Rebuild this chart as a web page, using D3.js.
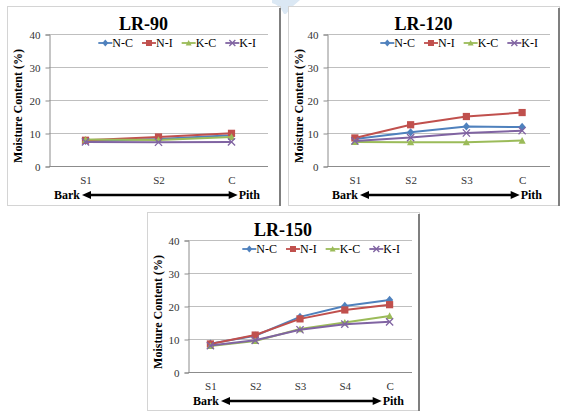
<!DOCTYPE html>
<html>
<head>
<meta charset="utf-8">
<script src="https://cdn.jsdelivr.net/npm/d3@7"></script>
<style>
  html, body { margin: 0; padding: 0; background: #fff; }
  svg { display: block; }
  svg text { font-family: 'Liberation Serif', 'Times New Roman', serif; }
</style>
</head>
<body>
<svg id="chart" width="575" height="415"></svg>
<script>
// ---- data ----
const seriesNames = ["N-C", "N-I", "K-C", "K-I"];
const seriesColors = ["#4F81BD", "#C0504D", "#9BBB59", "#8064A2"];
const seriesMarkers = ["diamond", "square", "triangle", "cross"];
const yTicks = [0, 10, 20, 30, 40];

const cats90 = ["S1", "S2", "C"];
const lr90NC = [7.6, 8.2, 9.3];
const lr90NI = [7.8, 8.8, 9.9];
const lr90KC = [8.0, 7.9, 8.8];
const lr90KI = [7.3, 7.2, 7.3];

const cats120 = ["S1", "S2", "S3", "C"];
const lr120NC = [8.2, 10.2, 12.0, 11.8];
const lr120NI = [8.5, 12.5, 15.0, 16.2];
const lr120KC = [7.3, 7.2, 7.2, 7.7];
const lr120KI = [7.6, 8.6, 10.0, 10.7];

const cats150 = ["S1", "S2", "S3", "S4", "C"];
const lr150NC = [8.6, 11.0, 16.7, 20.0, 21.8];
const lr150NI = [8.5, 11.2, 16.1, 18.8, 20.4];
const lr150KC = [7.9, 9.4, 13.0, 15.0, 17.0];
const lr150KI = [8.0, 9.6, 12.8, 14.5, 15.2];

const panels = [
  { title: "LR-90", cats: cats90, values: [lr90NC, lr90NI, lr90KC, lr90KI],
    box: [7, 6, 280, 205], plot: [49, 34, 268, 166] },
  { title: "LR-120", cats: cats120, values: [lr120NC, lr120NI, lr120KC, lr120KI],
    box: [288, 6, 559, 205], plot: [327, 34, 550, 166] },
  { title: "LR-150", cats: cats150, values: [lr150NC, lr150NI, lr150KC, lr150KI],
    box: [147, 212, 419, 410], plot: [188, 240, 412, 372] }
];

const SERIF = "'Liberation Serif', 'Times New Roman', serif";
const svg = d3.select("#chart");

// light blue page artifact at top
svg.append("path")
  .attr("d", "M272,0 L300,0 Q292,6 286,14 L284,14 Q280,5 272,3 Z")
  .attr("fill", "#dbe8f4");

function marker(g, type, x, y, color, s) {
  s = s || 3.6;
  if (type === "diamond") {
    g.append("path").attr("d", `M${x},${y - s - 0.6}L${x + s},${y}L${x},${y + s + 0.6}L${x - s},${y}Z`).attr("fill", color);
  } else if (type === "square") {
    g.append("rect").attr("x", x - s).attr("y", y - s).attr("width", 2 * s).attr("height", 2 * s).attr("fill", color);
  } else if (type === "triangle") {
    g.append("path").attr("d", `M${x},${y - s}L${x + s},${y + s - 0.5}L${x - s},${y + s - 0.5}Z`).attr("fill", color);
  } else {
    g.append("path").attr("d", `M${x - s},${y - s}L${x + s},${y + s}M${x - s},${y + s}L${x + s},${y - s}`)
      .attr("stroke", color).attr("stroke-width", 1.3).attr("fill", "none");
  }
}

panels.forEach(p => {
  const g = svg.append("g");
  const [bx0, by0, bx1, by1] = p.box;
  const [px0, py0, px1, py1] = p.plot;

  // panel frame
  g.append("rect").attr("x", bx0 + 0.5).attr("y", by0 + 0.5)
    .attr("width", bx1 - bx0).attr("height", by1 - by0)
    .attr("fill", "#fff").attr("stroke", "#d4d4d4").attr("stroke-width", 1);
  g.append("line").attr("x1", bx1).attr("x2", bx1).attr("y1", by0 + 2).attr("y2", by1 + 1)
    .attr("stroke", "#7f7f7f").attr("stroke-width", 2);

  const x = d3.scalePoint().domain(p.cats).range([px0, px1]).padding(0.5);
  const y = d3.scaleLinear().domain([0, 40]).range([py1, py0]);

  // gridlines
  g.append("g").selectAll("line").data(yTicks.filter(t => t > 0)).join("line")
    .attr("x1", px0).attr("x2", px1)
    .attr("y1", d => Math.round(y(d)) + 0.5).attr("y2", d => Math.round(y(d)) + 0.5)
    .attr("stroke", "#bfbfbf").attr("stroke-width", 1);

  // y axis
  const yAxis = g.append("g").attr("transform", `translate(${px0 + 0.5},0.5)`)
    .call(d3.axisLeft(y).tickValues(yTicks).tickSize(4).tickPadding(5).tickFormat(d3.format("d")));
  yAxis.attr("font-family", null);
  yAxis.select(".domain").attr("stroke", "#8c8c8c");
  yAxis.selectAll(".tick line").attr("stroke", "#8c8c8c");
  yAxis.selectAll("text").style("font-family", SERIF).attr("font-size", 11).attr("fill", "#333");

  // x axis
  const xAxis = g.append("g").attr("transform", `translate(0,${Math.round(py1) + 0.5})`)
    .call(d3.axisBottom(x).tickSize(0).tickPadding(10));
  xAxis.attr("font-family", null);
  xAxis.select(".domain").attr("stroke", "#8c8c8c").attr("d", `M${px0},0H${px1}`);
  xAxis.selectAll("text").style("font-family", SERIF).attr("font-size", 11).attr("fill", "#333");

  // series
  const line = d3.line().x((d, i) => x(p.cats[i])).y(d => y(d));
  p.values.forEach((vals, si) => {
    g.append("path").datum(vals).attr("d", line)
      .attr("fill", "none").attr("stroke", seriesColors[si]).attr("stroke-width", 2);
    vals.forEach((v, i) => marker(g, seriesMarkers[si], x(p.cats[i]), y(v), seriesColors[si]));
  });

  // title
  g.append("text").attr("x", (bx0 + bx1) / 2).attr("y", by0 + 24)
    .attr("text-anchor", "middle").style("font-family", SERIF).attr("font-weight", "bold")
    .attr("font-size", 18).attr("fill", "#000").text(p.title);

  // y axis title
  g.append("text")
    .attr("transform", `translate(${bx0 + 15},${(py0 + py1) / 2 + 6}) rotate(-90)`)
    .attr("text-anchor", "middle").style("font-family", SERIF).attr("font-weight", "bold")
    .attr("font-size", 12).attr("fill", "#000").text("Moisture Content (%)");

  // legend
  const lg = g.append("g");
  const ly = py0 + 9;
  let lx = 0;
  seriesNames.forEach((name, si) => {
    const it = lg.append("g").attr("transform", `translate(${lx},0)`);
    it.append("line").attr("x1", 0).attr("x2", 14).attr("y1", ly).attr("y2", ly)
      .attr("stroke", seriesColors[si]).attr("stroke-width", 1.8);
    marker(it, seriesMarkers[si], 7, ly, seriesColors[si], 3);
    const t = it.append("text").attr("x", 14).attr("y", ly + 4)
      .style("font-family", SERIF).attr("font-size", 12).attr("fill", "#000").text(name);
    lx += 14 + t.node().getComputedTextLength() + 9;
  });
  const lw = lx - 9;
  lg.attr("transform", `translate(${px1 - 12 - lw},0)`);

  // Bark <-> Pith
  const by = py1 + 33;
  const bark = g.append("text").attr("x", px0 + 5).attr("y", by)
    .style("font-family", SERIF).attr("font-weight", "bold").attr("font-size", 12).attr("fill", "#000").text("Bark");
  const pith = g.append("text").attr("x", px1 - 8).attr("y", by).attr("text-anchor", "end")
    .style("font-family", SERIF).attr("font-weight", "bold").attr("font-size", 12).attr("fill", "#000").text("Pith");
  const ax0 = px0 + 5 + bark.node().getComputedTextLength() + 2;
  const ax1 = px1 - 8 - pith.node().getComputedTextLength() - 1;
  const ay = by - 4;
  g.append("line").attr("x1", ax0 + 6).attr("x2", ax1 - 6).attr("y1", ay).attr("y2", ay)
    .attr("stroke", "#000").attr("stroke-width", 2.5);
  g.append("path").attr("d", `M${ax0},${ay}L${ax0 + 9},${ay - 4}L${ax0 + 9},${ay + 4}Z`).attr("fill", "#000");
  g.append("path").attr("d", `M${ax1},${ay}L${ax1 - 9},${ay - 4}L${ax1 - 9},${ay + 4}Z`).attr("fill", "#000");
});
</script>
</body>
</html>
